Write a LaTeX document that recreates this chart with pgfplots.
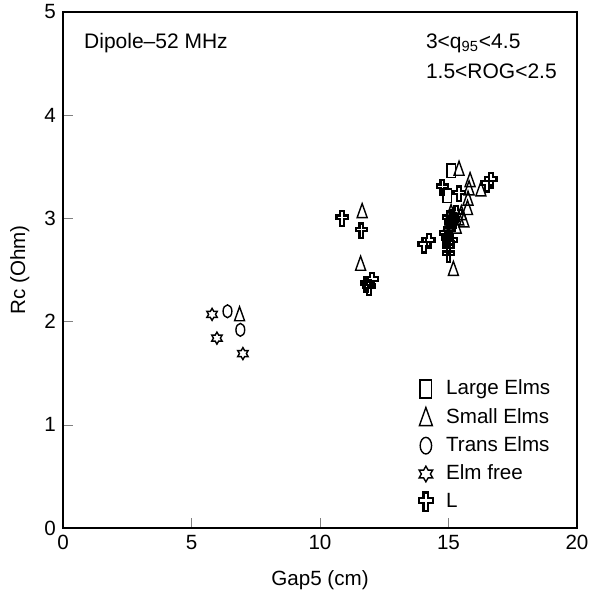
\documentclass[border=0pt]{standalone}
\usepackage{pgfplots}
\pgfplotsset{compat=1.18}
\usepackage{fontspec}
\setmainfont{Liberation Sans}

\pgfdeclareplotmark{tallsq}{%
  \pgfpathrectangle{\pgfpoint{-2.2pt}{-3.4pt}}{\pgfpoint{4.4pt}{6.8pt}}%
  \pgfusepathqstroke}
\pgfdeclareplotmark{talltri}{%
  \pgfpathmoveto{\pgfpoint{0pt}{3.8pt}}%
  \pgfpathlineto{\pgfpoint{-2.5pt}{-3.2pt}}%
  \pgfpathlineto{\pgfpoint{2.5pt}{-3.2pt}}%
  \pgfpathclose\pgfusepathqstroke}
\pgfdeclareplotmark{tallell}{%
  \pgfpathellipse{\pgfpointorigin}{\pgfpoint{2.2pt}{0pt}}{\pgfpoint{0pt}{3.2pt}}%
  \pgfusepathqstroke}
\pgfdeclareplotmark{hexagram}{%
  \pgfpathmoveto{\pgfpointpolar{90}{3pt}}%
  \pgfpathlineto{\pgfpointpolar{120}{1.73pt}}%
  \pgfpathlineto{\pgfpointpolar{150}{3pt}}%
  \pgfpathlineto{\pgfpointpolar{180}{1.73pt}}%
  \pgfpathlineto{\pgfpointpolar{210}{3pt}}%
  \pgfpathlineto{\pgfpointpolar{240}{1.73pt}}%
  \pgfpathlineto{\pgfpointpolar{270}{3pt}}%
  \pgfpathlineto{\pgfpointpolar{300}{1.73pt}}%
  \pgfpathlineto{\pgfpointpolar{330}{3pt}}%
  \pgfpathlineto{\pgfpointpolar{0}{1.73pt}}%
  \pgfpathlineto{\pgfpointpolar{30}{3pt}}%
  \pgfpathlineto{\pgfpointpolar{60}{1.73pt}}%
  \pgfpathclose\pgfusepathqstroke}
\pgfdeclareplotmark{opencross}{%
  \pgfpathmoveto{\pgfpoint{-0.9pt}{3.6pt}}%
  \pgfpathlineto{\pgfpoint{0.9pt}{3.6pt}}%
  \pgfpathlineto{\pgfpoint{0.9pt}{1.5pt}}%
  \pgfpathlineto{\pgfpoint{2.8pt}{1.5pt}}%
  \pgfpathlineto{\pgfpoint{2.8pt}{-0.3pt}}%
  \pgfpathlineto{\pgfpoint{0.9pt}{-0.3pt}}%
  \pgfpathlineto{\pgfpoint{0.9pt}{-3.6pt}}%
  \pgfpathlineto{\pgfpoint{-0.9pt}{-3.6pt}}%
  \pgfpathlineto{\pgfpoint{-0.9pt}{-0.3pt}}%
  \pgfpathlineto{\pgfpoint{-2.8pt}{-0.3pt}}%
  \pgfpathlineto{\pgfpoint{-2.8pt}{1.5pt}}%
  \pgfpathlineto{\pgfpoint{-0.9pt}{1.5pt}}%
  \pgfpathclose\pgfusepathqstroke}

\begin{document}
\begin{tikzpicture}
\path[use as bounding box] (-31.5pt,-34pt) rectangle (266.5pt,264pt);
\begin{axis}[
  scale only axis, width=257pt, height=258pt,
  at={(0pt,0pt)}, anchor=south west,
  xmin=0, xmax=20, ymin=0, ymax=5,
  xtick={0,5,10,15,20}, ytick={0,1,2,3,4,5},
  tick pos=left, tick align=inside, major tick length=5pt,
  axis line style={line width=0.6pt},
  /pgf/number format/assume math mode=true,
  ticklabel style={font=\fontsize{10.3}{12}\selectfont},
  label style={font=\fontsize{10.3}{12}\selectfont},
  xlabel={Gap5 (cm)}, ylabel={Rc (Ohm)},
  xlabel style={at={(axis description cs:0.5,-0.102)}, anchor=center},
  ylabel style={at={(axis description cs:-0.084,0.5)}, anchor=center},
  legend style={draw=none, fill=none, font=\fontsize{10.3}{12}\selectfont,
    at={(axis description cs:0.662,0.303)}, anchor=north west,
    row sep=1.2pt},
  legend cell align=left,
  legend image code/.code={%
    \path[draw=none] (0cm,0cm) -- (0.57cm,0cm);
    \draw[only marks, mark options={scale=1.3}] plot coordinates {(0.285cm,0cm)};},
  every axis plot/.append style={only marks, line width=0.7pt, black},
]
\addplot[mark=tallsq] coordinates {(15.11,3.46) (14.95,3.22)};
\addlegendentry{Large Elms}
\addplot[mark=talltri] coordinates {
 (6.87,2.07) (11.64,3.07) (11.58,2.56) (15.41,3.48) (15.84,3.37) (15.80,3.29)
 (16.26,3.28) (15.76,3.19) (15.74,3.10) (15.19,2.51)
 (15.0,2.95) (15.2,3.02) (15.4,3.00) (15.5,3.05) (15.1,3.06) (15.6,2.98)
 (15.3,2.92) (15.0,2.85)};
\addlegendentry{Small Elms}
\addplot[mark=tallell] coordinates {(6.40,2.10) (6.90,1.92)};
\addlegendentry{Trans Elms}
\addplot[mark=hexagram] coordinates {(5.80,2.07) (5.99,1.84) (7.0,1.69)};
\addlegendentry{Elm free}
\addplot[mark=opencross, line width=1.1pt] coordinates {
 (10.86,3.00) (11.61,2.88) (12.03,2.40) (11.9,2.33) (11.8,2.36)
 (14.76,3.30) (15.41,3.24) (16.5,3.33) (16.65,3.37) (14.05,2.74) (14.24,2.78)
 (15.0,2.72) (14.95,2.80) (15.05,2.88) (14.9,2.85) (15.1,2.95) (15.0,3.0)
 (15.2,2.98) (15.3,3.05) (15.1,2.78) (15.0,2.75) (15.0,2.65)};
\addlegendentry{L}
\node[anchor=west, font=\fontsize{10.5}{12}\selectfont] at (axis cs:0.55,4.70) {Dipole–52 MHz};
\node[anchor=west, font=\fontsize{10.5}{12}\selectfont] at (axis cs:13.85,4.70) {3<q\textsubscript{95}<4.5};
\node[anchor=west, font=\fontsize{10.5}{12}\selectfont] at (axis cs:13.85,4.43) {1.5<ROG<2.5};
\node[rotate=90, font=\fontsize{6}{7}\selectfont] at (axis description cs:1.023,0.068) {JG95.521/9c};
\end{axis}
\end{tikzpicture}
\end{document}
